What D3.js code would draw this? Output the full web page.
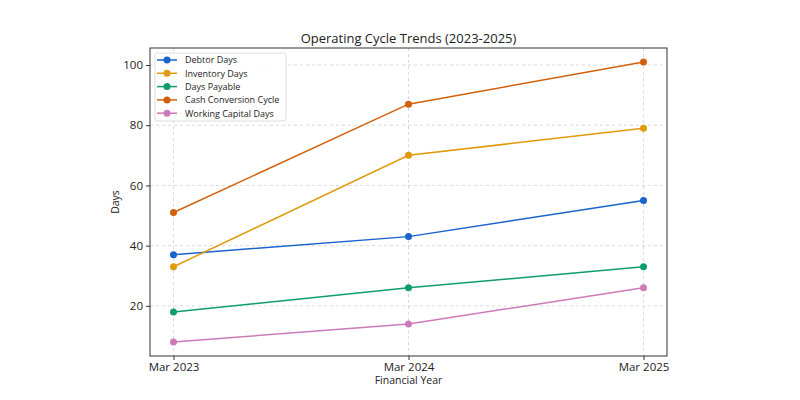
<!DOCTYPE html>
<html>
<head>
<meta charset="utf-8">
<script src="https://cdn.jsdelivr.net/npm/d3@7"></script>
<style>
  body { margin: 0; background: #fff; }
  svg text { font-family: "Open Sans", Roboto, sans-serif; fill: #222; }
</style>
</head>
<body>
<svg id="chart" width="800" height="400"></svg>
<script>
/* data */
var years = ["Mar 2023", "Mar 2024", "Mar 2025"];
var debtorDays = [37, 43, 55];
var inventoryDays = [33, 70, 79];
var daysPayable = [18, 26, 33];
var cashConversion = [51, 87, 101];
var workingCapital = [8, 14, 26];
var yTicks = [20, 40, 60, 80, 100];

var series = [
  { name: "Debtor Days", values: debtorDays, color: "#1a62cc" },
  { name: "Inventory Days", values: inventoryDays, color: "#e09a0c" },
  { name: "Days Payable", values: daysPayable, color: "#0f9d6e" },
  { name: "Cash Conversion Cycle", values: cashConversion, color: "#d2600b" },
  { name: "Working Capital Days", values: workingCapital, color: "#cc7ab8" }
];

var svg = d3.select("#chart");
// plot box (note: "top" is taken by window.top, so use other names)
var plotL = 150, plotR = 667, plotT = 48, plotB = 356;

// x: point positions with 5% margins like matplotlib
var x = d3.scaleLinear().domain([-0.1, 2.1]).range([plotL, plotR]);
var y = d3.scaleLinear().domain([3.35, 105.65]).range([plotB, plotT]);

// grid
var grid = svg.append("g");
grid.selectAll(".gx").data(years).enter().append("line")
  .attr("x1", function(d, i) { return x(i); }).attr("x2", function(d, i) { return x(i); })
  .attr("y1", plotT).attr("y2", plotB)
  .attr("stroke", "#d0d0d0").attr("stroke-dasharray", "3,3").attr("stroke-width", 0.8);
grid.selectAll(".gy").data(yTicks).enter().append("line")
  .attr("x1", plotL).attr("x2", plotR)
  .attr("y1", function(d) { return y(d); }).attr("y2", function(d) { return y(d); })
  .attr("stroke", "#d0d0d0").attr("stroke-dasharray", "3,3").attr("stroke-width", 0.8);

// axes
var xAxis = d3.axisBottom(x).tickValues([0, 1, 2])
  .tickFormat(function(i) { return years[i]; }).tickSize(4).tickPadding(3);
var yAxis = d3.axisLeft(y).tickValues(yTicks).tickSize(4).tickPadding(3);

var gx = svg.append("g").attr("transform", "translate(0," + plotB + ")").call(xAxis);
var gy = svg.append("g").attr("transform", "translate(" + plotL + ",0)").call(yAxis);
[gx, gy].forEach(function(g) {
  g.select(".domain").remove();
  g.selectAll("line").attr("stroke", "#333");
  g.selectAll("text").style("font-size", "11.5px").attr("fill", "#222");
});

// frame
svg.append("rect")
  .attr("x", plotL).attr("y", plotT)
  .attr("width", plotR - plotL).attr("height", plotB - plotT)
  .attr("fill", "none").attr("stroke", "#333").attr("stroke-width", 1);

// lines
var line = d3.line()
  .x(function(d, i) { return x(i); })
  .y(function(d) { return y(d); });

series.forEach(function(s) {
  svg.append("path").datum(s.values)
    .attr("d", line).attr("fill", "none")
    .attr("stroke", s.color).attr("stroke-width", 1.5);
  svg.selectAll(null).data(s.values).enter().append("circle")
    .attr("cx", function(d, i) { return x(i); })
    .attr("cy", function(d) { return y(d); })
    .attr("r", 3.5).attr("fill", s.color);
});

// titles
svg.append("text").attr("x", (plotL + plotR) / 2).attr("y", 43)
  .attr("text-anchor", "middle").style("font-size", "13px")
  .text("Operating Cycle Trends (2023-2025)");
svg.append("text").attr("x", (plotL + plotR) / 2).attr("y", 384)
  .attr("text-anchor", "middle").style("font-size", "10.5px")
  .text("Financial Year");
svg.append("text")
  .attr("transform", "translate(119," + ((plotT + plotB) / 2) + ") rotate(-90)")
  .attr("text-anchor", "middle").style("font-size", "10.5px")
  .text("Days");

// legend
var legend = svg.append("g").attr("transform", "translate(155,53)");
legend.append("rect").attr("width", 131).attr("height", 68).attr("rx", 2)
  .attr("fill", "rgba(255,255,255,0.85)").attr("stroke", "#ddd");
series.forEach(function(s, i) {
  var ly = 7 + i * 13.3;
  legend.append("line").attr("x1", 2).attr("x2", 22).attr("y1", ly).attr("y2", ly)
    .attr("stroke", s.color).attr("stroke-width", 1.5);
  legend.append("circle").attr("cx", 12).attr("cy", ly).attr("r", 3.5).attr("fill", s.color);
  legend.append("text").attr("x", 30).attr("y", ly + 3.3)
    .style("font-size", "9px").text(s.name);
});
</script>
</body>
</html>
